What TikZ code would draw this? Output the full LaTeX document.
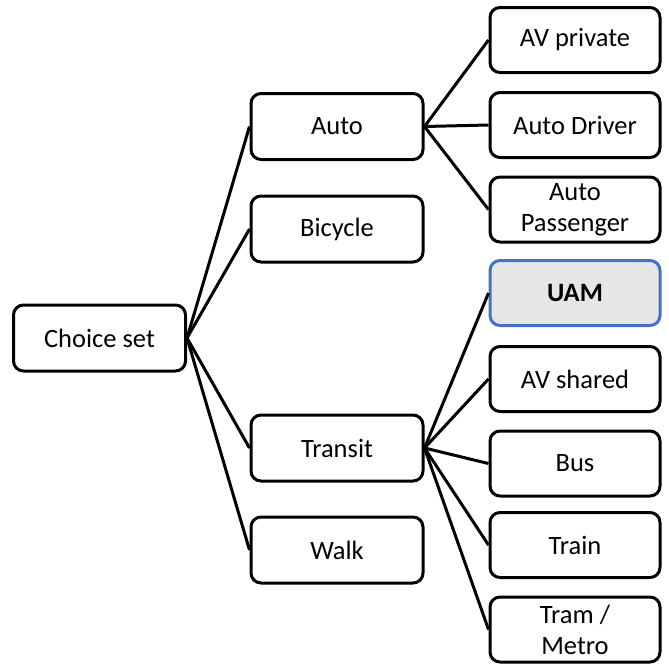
\documentclass[tikz,border=0pt]{standalone}
\usepackage{fontspec}
\setmainfont{Carlito}
\begin{document}
\begin{tikzpicture}[x=1pt,y=-1pt,
  box/.style={draw=black, line width=3pt, rounded corners=10pt, fill=white,
    minimum width=170pt, minimum height=65pt, inner sep=2pt, align=center,
    font=\fontsize{26.5}{31}\selectfont},
  midbox/.style={box, minimum width=172pt, minimum height=66pt},
  hibox/.style={box, draw=uamblue, fill=uamgray, font=\fontsize{26.5}{31}\selectfont\bfseries},
  link/.style={line width=3pt, draw=black}]
\definecolor{uamblue}{HTML}{4472C4}
\definecolor{uamgray}{HTML}{E6E6E6}
\useasboundingbox (0,0) rectangle (669,664);
% nodes
\node[midbox] (cs) at (99.5,338) {Choice set};
\node[midbox] (auto) at (337,126.5) {Auto};
\node[midbox] (bike) at (337,229) {Bicycle};
\node[midbox] (transit) at (337,448) {Transit};
\node[midbox] (walk) at (337,550) {Walk};
\node[box] (avp) at (575,40) {AV private};
\node[box] (ad) at (575,125) {Auto Driver};
\node[box] (ap) at (575,209.5) {Auto\\Passenger};
\node[hibox] (uam) at (575,293) {UAM};
\node[box] (avs) at (575,379) {AV shared};
\node[box] (bus) at (575,463.5) {Bus};
\node[box] (train) at (575,545) {Train};
\node[box] (tram) at (575,629.5) {Tram /\\Metro};
% links
\foreach \t in {auto,bike,transit,walk}
  \draw[link] (cs.east) -- (\t.west);
\foreach \t in {avp,ad,ap}
  \draw[link] (auto.east) -- (\t.west);
\foreach \t in {uam,avs,bus,train,tram}
  \draw[link] (transit.east) -- (\t.west);
\end{tikzpicture}
\end{document}
